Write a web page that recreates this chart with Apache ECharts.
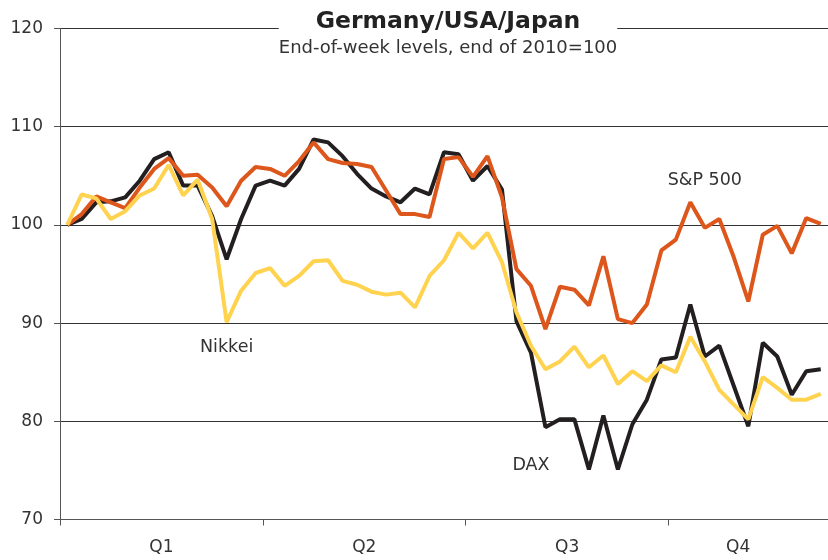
<!DOCTYPE html>
<html>
<head>
<meta charset="utf-8">
<script src="https://cdn.jsdelivr.net/npm/echarts@6/dist/echarts.min.js"></script>
<style>
  html, body { margin: 0; padding: 0; background: #fff; }
  #chart-container { width: 828px; height: 560px; }
</style>
</head>
<body>
<div id="chart-container"></div>
<script>
// weeks: end of 2010 (W0) plus 52 weeks of 2011
const weeks = [];
for (let i = 0; i <= 52; i++) weeks.push('W' + i);

const quarterLabels = ['Q1', 'Q2', 'Q3', 'Q4'];
// position of quarter labels, in weeks from the start of the axis
const quarterPos = [7, 21, 35, 46.8];

const dax = [
  100, 100.6, 102.3, 102.4, 102.8, 104.5, 106.7, 107.4, 104.0, 104.0,
  100.9, 96.5, 100.6, 104.0, 104.5, 104.0, 105.7, 108.7, 108.4, 107.0,
  105.2, 103.7, 102.9, 102.3, 103.7, 103.1, 107.4, 107.2, 104.5, 106.0,
  103.6, 90.2, 87.0, 79.4, 80.2, 80.2, 75.1, 80.6, 75.1, 79.7,
  82.2, 86.3, 86.5, 91.9, 86.6, 87.7, 83.6, 79.5, 88.0, 86.6,
  82.7, 85.1, 85.3
];
const sp500 = [
  100, 101.1, 102.9, 102.3, 101.7, 103.8, 105.7, 106.8, 105.0, 105.1,
  103.8, 101.9, 104.5, 105.9, 105.7, 105.0, 106.5, 108.4, 106.7, 106.3,
  106.2, 105.9, 103.5, 101.1, 101.1, 100.8, 106.7, 106.9, 104.9, 107.0,
  102.8, 95.5, 93.8, 89.4, 93.7, 93.4, 91.8, 96.8, 90.4, 90.0,
  91.9, 97.4, 98.5, 102.3, 99.7, 100.6, 96.7, 92.2, 99.0, 99.9,
  97.1, 100.7, 100.1
];
const nikkei = [
  100, 103.1, 102.7, 100.6, 101.4, 103.0, 103.7, 106.1, 103.0, 104.6,
  100.6, 90.1, 93.3, 95.1, 95.6, 93.8, 94.8, 96.3, 96.4, 94.3,
  93.9, 93.2, 92.9, 93.1, 91.6, 94.8, 96.4, 99.2, 97.6, 99.2,
  96.2, 91.1, 87.7, 85.3, 86.1, 87.6, 85.5, 86.7, 83.8, 85.1,
  84.1, 85.7, 85.0, 88.6, 86.1, 83.2, 81.7, 80.2, 84.5, 83.4,
  82.2, 82.2, 82.8
];

const FONT = 'DejaVu Sans';
const TXT = '#333';

const chart = echarts.init(document.getElementById('chart-container'));

// 線上的名稱標籤
const nameLabel = (text, week, value) => ({
  symbol: 'circle',
  symbolSize: 0,
  label: {
    show: true,
    position: 'inside',
    formatter: text,
    color: TXT,
    fontFamily: FONT,
    fontSize: 17.5
  },
  data: [{ coord: [week, value] }],
  silent: true
});

const option = {
  animation: false,
  backgroundColor: '#fff',
  title: {
    text: 'Germany/USA/Japan',
    subtext: 'End-of-week levels, end of 2010=100',
    left: 448,
    top: 10,
    textAlign: 'center',
    itemGap: 5,
    padding: [0, 0, 2, 0],
    backgroundColor: '#fff',
    textStyle: { fontFamily: FONT, fontSize: 23.5, fontWeight: 'bold', color: '#222' },
    subtextStyle: { fontFamily: FONT, fontSize: 18, color: TXT }
  },
  grid: { left: 60, right: 0, top: 28.5, bottom: 40.5 },
  xAxis: [
    {
      type: 'category',
      data: weeks,
      boundaryGap: true,
      axisLine: { lineStyle: { color: '#555', width: 1 } },
      axisTick: { show: true, interval: 13, length: 6, lineStyle: { color: '#555' } },
      axisLabel: { show: false },
      splitLine: { show: false }
    },
    {
      type: 'value',
      min: 0,
      max: 53,
      position: 'bottom',
      axisLine: { show: false },
      axisTick: { show: false },
      splitLine: { show: false },
      axisLabel: {
        customValues: quarterPos,
        formatter: (v) => quarterLabels[quarterPos.indexOf(v)] || '',
        margin: 20,
        color: TXT,
        fontFamily: FONT,
        fontSize: 17
      }
    }
  ],
  yAxis: {
    type: 'value',
    min: 70,
    max: 120,
    interval: 10,
    axisLine: { show: true, lineStyle: { color: '#555', width: 1 } },
    axisTick: { show: true, length: 6, lineStyle: { color: '#555' } },
    axisLabel: { margin: 17, color: TXT, fontFamily: FONT, fontSize: 17 },
    splitLine: { lineStyle: { color: '#333', width: 1 } }
  },
  series: [
    {
      name: 'DAX',
      type: 'line',
      data: dax,
      showSymbol: false,
      lineStyle: { color: '#231f20', width: 4 },
      itemStyle: { color: '#231f20' },
      markPoint: nameLabel('DAX', 'W32', 75.55)
    },
    {
      name: 'S&P 500',
      type: 'line',
      data: sp500,
      showSymbol: false,
      lineStyle: { color: '#dd561b', width: 4 },
      itemStyle: { color: '#dd561b' },
      markPoint: nameLabel('S&P 500', 'W44', 104.5)
    },
    {
      name: 'Nikkei',
      type: 'line',
      data: nikkei,
      showSymbol: false,
      lineStyle: { color: '#ffd34f', width: 4 },
      itemStyle: { color: '#ffd34f' },
      markPoint: nameLabel('Nikkei', 'W11', 87.5)
    }
  ]
};

chart.setOption(option);
window.addEventListener('resize', () => chart.resize());
</script>
</body>
</html>
